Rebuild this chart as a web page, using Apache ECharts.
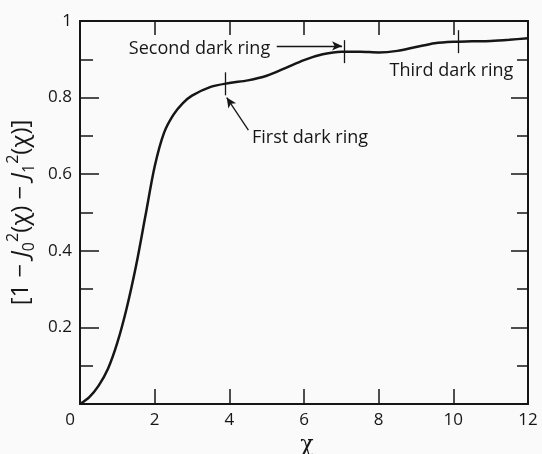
<!DOCTYPE html>
<html>
<head>
<meta charset="utf-8">
<script src="https://cdn.jsdelivr.net/npm/echarts@6/dist/echarts.min.js"></script>
<style>html,body{margin:0;padding:0;background:#fafafa}#c{width:542px;height:454px}</style>
</head>
<body>
<div id="c"></div>
<script>
// Curve
var xs = [0, 0.25, 0.5, 0.75, 1.0, 1.25, 1.5, 1.75, 2.0, 2.25, 2.5, 2.75, 3.0, 3.5, 4.0, 4.5, 5.0, 5.5, 6.0, 6.5, 7.0, 7.5, 8.0, 8.5, 9.0, 9.5, 10.0, 10.5, 11.0, 11.5, 12.0];
var ys = [0, 0.018, 0.048, 0.092, 0.16, 0.25, 0.36, 0.49, 0.62, 0.708, 0.755, 0.785, 0.805, 0.828, 0.838, 0.845, 0.857, 0.877, 0.898, 0.913, 0.920, 0.920, 0.918, 0.922, 0.932, 0.942, 0.946, 0.947, 0.948, 0.951, 0.955];
// Dark ring positions (x) and their curve values
var ringX = [3.88, 7.08, 10.13];
var ringY = [0.836, 0.920, 0.946];
var ringNames = ['First dark ring', 'Second dark ring', 'Third dark ring'];
var xTicks = [0, 2, 4, 6, 8, 10, 12];
var yTicks = [0, 0.2, 0.4, 0.6, 0.8, 1];

var FONT = '"Open Sans", "Noto Sans", sans-serif';
var INK = '#161616';
var data = xs.map(function (x, i) { return [x, ys[i]]; });

var tickHalf = 0.03;
var markLines = ringX.map(function (x, i) {
  return [{ coord: [x, ringY[i] - tickHalf], symbol: 'none' }, { coord: [x, ringY[i] + tickHalf], symbol: 'none' }];
});
// First ring: curved arrow from the label up to the ring mark
markLines.push([
  { coord: [4.51, 0.715], symbol: 'none', lineStyle: { curveness: -0.5 } },
  { coord: [3.93, 0.80], symbol: 'arrow', symbolSize: [7, 10] }
]);
// Second ring: horizontal arrow from the label to the ring mark
markLines.push([
  { coord: [5.27, 0.935], symbol: 'none' },
  { coord: [7.02, 0.935], symbol: 'arrow', symbolSize: [7, 10] }
]);

var labelPos = [[6.16, 0.694], [3.20, 0.927], [9.95, 0.870]];
var markPoints = ringNames.map(function (n, i) {
  return { coord: labelPos[i], value: n };
});

var chart = echarts.init(document.getElementById('c'));
chart.setOption({
  animation: false,
  backgroundColor: '#fafafa',
  grid: { left: 80, right: 14, top: 21, bottom: 50, outerBoundsMode: 'none', containLabel: false },
  xAxis: [{
    type: 'value', min: 0, max: 12, interval: 2,
    name: 'χ', nameLocation: 'middle', nameGap: 29,
    nameTextStyle: { fontFamily: '"DejaVu Serif", serif', fontSize: 22, color: INK, padding: [0, 0, 0, 6] },
    axisLine: { show: true, onZero: false, lineStyle: { color: INK, width: 2 } },
    axisTick: { show: true, inside: true, length: 15, lineStyle: { color: INK, width: 1.5 },
      customValues: [2, 4, 6, 8, 10] },
    axisLabel: {
      margin: 8, fontFamily: FONT, fontSize: 17, color: INK,
      formatter: function (v) { return v === 0 ? '{z|0}' : String(v); },
      rich: { z: { fontFamily: FONT, fontSize: 17, color: INK, padding: [0, 20, 0, 0] } }
    },
    splitLine: { show: false }
  }, {
    type: 'value', position: 'top', min: 0, max: 12, interval: 2,
    axisLine: { show: true, onZero: false, lineStyle: { color: INK, width: 2 } },
    axisTick: { show: true, inside: true, length: 14, lineStyle: { color: INK, width: 1.5 },
      customValues: [2, 4, 6, 8, 10] },
    axisLabel: { show: false },
    splitLine: { show: false }
  }],
  yAxis: [{
    type: 'value', min: 0, max: 1, interval: 0.2,
    name: '{n|[1 − }{i|J}{sb|0}{sp|2}{n|(χ) − }{i|J}{sb|1}{sp|2}{n|(χ)]}',
    nameLocation: 'middle', nameGap: 36, nameRotate: 90,
    nameTextStyle: {
      fontFamily: FONT, fontSize: 24, color: INK,
      rich: {
        n: { fontFamily: FONT, fontSize: 24, color: INK, lineHeight: 32, verticalAlign: 'middle' },
        i: { fontFamily: FONT, fontSize: 24, fontStyle: 'italic', color: INK, lineHeight: 32, verticalAlign: 'middle' },
        sb: { fontFamily: FONT, fontSize: 16, color: INK, verticalAlign: 'bottom', lineHeight: 32 },
        sp: { fontFamily: FONT, fontSize: 16, color: INK, verticalAlign: 'top', lineHeight: 32 }
      }
    },
    axisLine: { show: true, onZero: false, lineStyle: { color: INK, width: 2 } },
    axisTick: { show: true, inside: true, length: 19, lineStyle: { color: INK, width: 1.5 } },
    minorTick: { show: true, splitNumber: 2, length: 13, lineStyle: { color: INK, width: 1.5 } },
    axisLabel: {
      margin: 8, fontFamily: FONT, fontSize: 17, color: INK,
      formatter: function (v) { return v === 0 ? '' : (v === 1 ? '1' : v.toFixed(1)); }
    },
    splitLine: { show: false }
  }, {
    type: 'value', position: 'right', min: 0, max: 1, interval: 0.2,
    axisLine: { show: true, onZero: false, lineStyle: { color: INK, width: 2 } },
    axisTick: { show: true, inside: true, length: 17, lineStyle: { color: INK, width: 1.5 } },
    minorTick: { show: true, splitNumber: 2, length: 11, lineStyle: { color: INK, width: 1.5 } },
    axisLabel: { show: false },
    splitLine: { show: false }
  }],
  series: [{
    type: 'line',
    data: data,
    showSymbol: false,
    smooth: 0.3,
    lineStyle: { color: INK, width: 2.5 },
    emphasis: { disabled: true },
    markLine: {
      silent: true,
      symbol: 'none',
      label: { show: false },
      lineStyle: { color: INK, width: 1.3, type: 'solid' },
      emphasis: { disabled: true },
      data: markLines
    },
    markPoint: {
      silent: true,
      symbol: 'rect',
      symbolSize: 1,
      itemStyle: { color: 'rgba(0,0,0,0)' },
      label: {
        show: true, position: 'inside', color: INK,
        fontFamily: FONT, fontSize: 18,
        formatter: function (p) { return p.value; }
      },
      data: markPoints
    }
  }]
});
</script>
</body>
</html>
